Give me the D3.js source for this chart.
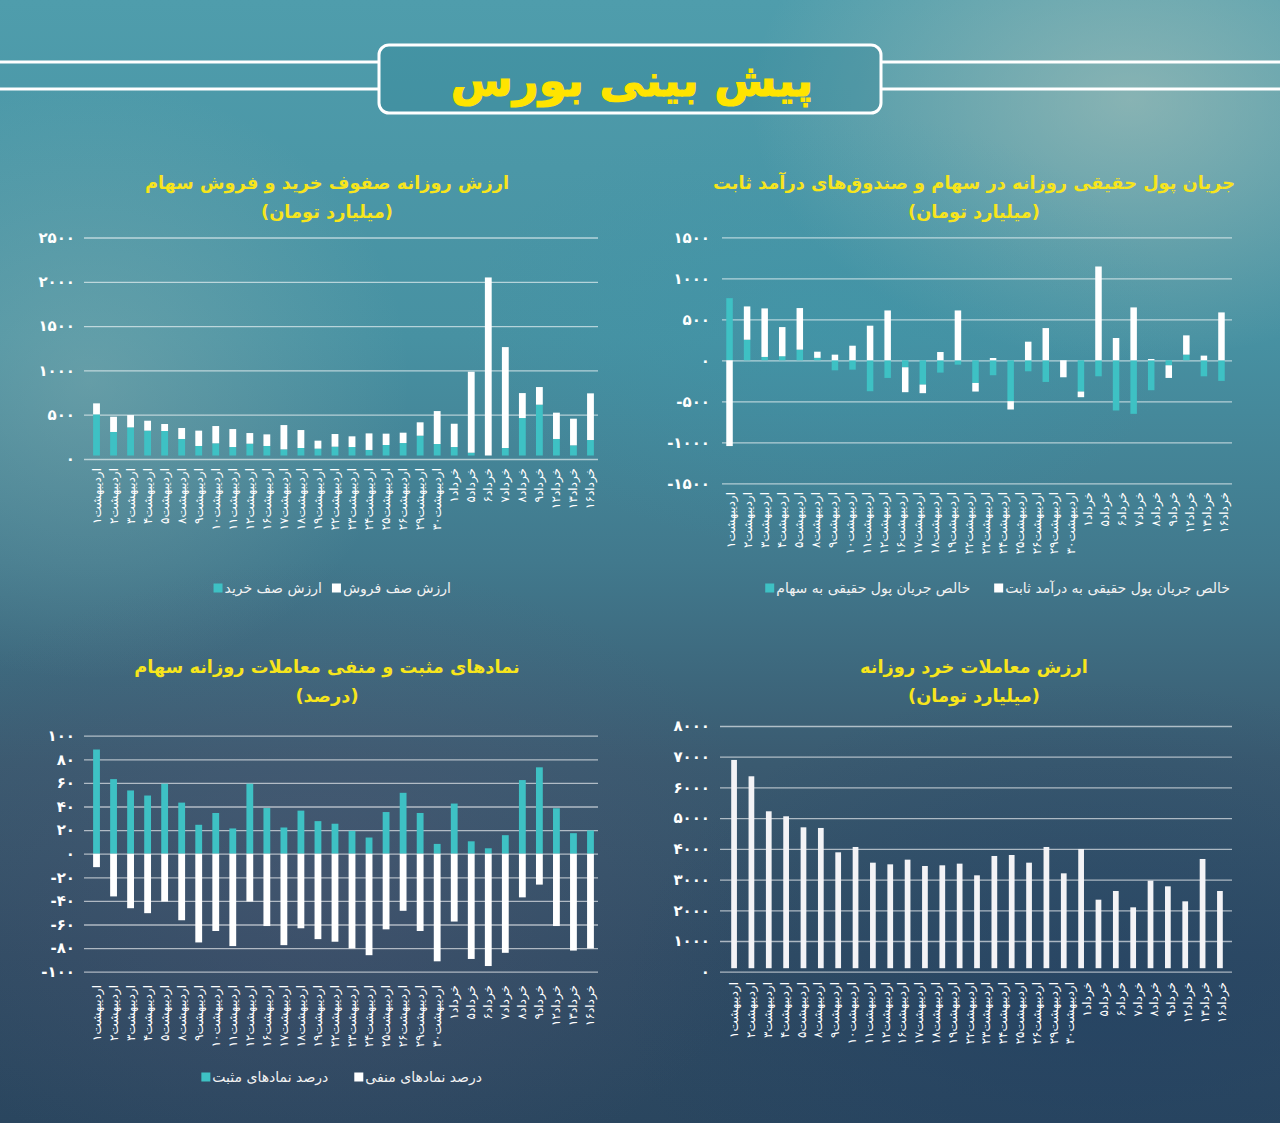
<!DOCTYPE html>
<html><head><meta charset="utf-8">
<script src="https://cdn.jsdelivr.net/npm/d3@7"></script>
<style>html,body{margin:0;padding:0;background:#3b7a8e;}svg{display:block;}</style>
</head><body>
<svg id="c" width="1280" height="1123"></svg>
<script>
// ---------------- DATA ----------------
const dates = ['اردیبهشت۱','اردیبهشت۲','اردیبهشت۳','اردیبهشت۴','اردیبهشت۵','اردیبهشت۸','اردیبهشت۹','اردیبهشت۱۰','اردیبهشت۱۱','اردیبهشت۱۲','اردیبهشت۱۶','اردیبهشت۱۷','اردیبهشت۱۸','اردیبهشت۱۹','اردیبهشت۲۲','اردیبهشت۲۳','اردیبهشت۲۴','اردیبهشت۲۵','اردیبهشت۲۶','اردیبهشت۲۹','اردیبهشت۳۰','خرداد۱','خرداد۵','خرداد۶','خرداد۷','خرداد۸','خرداد۹','خرداد۱۲','خرداد۱۳','خرداد۱۶'];

// chart 1: buy / sell queue value (billion toman)
const queueBuy  = [504,305,357,320,316,226,147,177,135,173,147,109,124,117,139,135,102,158,180,263,169,135,71,15,124,462,613,226,154,214];
const queueSell = [124,172,139,112,79,124,173,195,203,120,131,274,203,90,143,121,187,128,117,151,372,263,914,2034,1139,282,199,297,301,527];

// chart 2: net real money flow (29 bars drawn)
const flowStock = [758,251,41,49,130,30,-122,-114,-377,-215,-85,-296,-150,-53,-276,-182,-499,-134,-264,0,-381,-195,-612,-653,-365,-61,69,-195,-251];
const flowFixed = [-1046,406,592,356,507,75,69,178,422,608,-304,-105,101,608,-105,28,-101,227,393,-207,-69,1144,272,645,16,-154,235,57,584];

// chart 3: percent of positive / negative symbols
const posPct = [88.3,63.2,53.6,49.3,59.3,43.3,24.5,34.5,21.4,59.3,38.7,22.2,36.5,27.6,25.4,19.4,13.7,35.3,51.6,34.5,8.3,42.5,10.5,4.6,15.7,62.4,73.2,38.5,17.4,19.7];
const negPct = [-11.4,-36.2,-46.2,-50.4,-40.5,-56.4,-75.2,-65.5,-78.3,-40.5,-61.3,-77.5,-63.2,-72.4,-74.6,-80.3,-86.0,-64.1,-48.4,-65.5,-91.2,-57.5,-89.2,-95.2,-84.0,-37.0,-26.2,-61.3,-82.1,-80.3];

// chart 4: retail trade value (29 bars drawn)
const retailValue = [6895,6363,5223,5060,4701,4680,3887,4061,3550,3496,3648,3442,3464,3518,3138,3768,3800,3550,4061,3203,3996,2345,2628,2096,2964,2780,2291,3670,2628];

const ticks1 = [0,500,1000,1500,2000,2500];
const ticks2 = [-1500,-1000,-500,0,500,1000,1500];
const ticks3 = [-100,-80,-60,-40,-20,0,20,40,60,80,100];
const ticks4 = [0,1000,2000,3000,4000,5000,6000,7000,8000];

const mainTitle = 'پیش بینی بورس';
const title1 = ['ارزش روزانه صفوف خرید و فروش سهام','(میلیارد تومان)'];
const title2 = ['جریان پول حقیقی روزانه در سهام و صندوق\u200cهای درآمد ثابت','(میلیارد تومان)'];
const title3 = ['نمادهای مثبت و منفی معاملات روزانه سهام','(درصد)'];
const title4 = ['ارزش معاملات خرد روزانه','(میلیارد تومان)'];
const legend1 = ['ارزش صف فروش','ارزش صف خرید'];
const legend2 = ['خالص جریان پول حقیقی به درآمد ثابت','خالص جریان پول حقیقی به سهام'];
const legend3 = ['درصد نمادهای منفی','درصد نمادهای مثبت'];

// ---------------- STYLE ----------------
const FONT = '"DejaVu Sans", sans-serif';
const TEAL = '#3ec1c4';
const WHITE = '#ffffff';
const YELLOW = '#f7e51c';
const fa = s => String(s).replace(/\d/g, d => '۰۱۲۳۴۵۶۷۸۹'[d]);
const faNum = v => v < 0 ? '-' + fa(-v) : fa(v);

const svg = d3.select('#c');
const defs = svg.append('defs');
const lg = defs.append('linearGradient').attr('id','bg').attr('x1',0).attr('y1',0).attr('x2',0).attr('y2',1);
[[0,'#4f9dac'],[0.3,'#4791a2'],[0.5,'#41798d'],[0.68,'#3a5a70'],[0.85,'#304c64'],[1,'#2a465f']].forEach(([o,c])=>lg.append('stop').attr('offset',o).attr('stop-color',c));
function radial(id, color, op){
  const r = defs.append('radialGradient').attr('id',id);
  r.append('stop').attr('offset',0).attr('stop-color',color).attr('stop-opacity',op);
  r.append('stop').attr('offset',1).attr('stop-color',color).attr('stop-opacity',0);
}
radial('r1','#b8c8bc',0.55);
radial('r2','#9fbcb8',0.35);
radial('r3','#5a5a78',0.35);
radial('r4','#1f3f64',0.45);
radial('r5','#3a98ad',0.35);
svg.append('rect').attr('width',1280).attr('height',1123).attr('fill','url(#bg)');
svg.append('ellipse').attr('cx',1130).attr('cy',100).attr('rx',380).attr('ry',260).attr('fill','url(#r1)');
svg.append('ellipse').attr('cx',90).attr('cy',380).attr('rx',320).attr('ry',300).attr('fill','url(#r2)');
svg.append('ellipse').attr('cx',320).attr('cy',880).attr('rx',460).attr('ry',320).attr('fill','url(#r3)');
svg.append('ellipse').attr('cx',1100).attr('cy',1000).attr('rx',480).attr('ry',320).attr('fill','url(#r4)');
svg.append('ellipse').attr('cx',820).attr('cy',330).attr('rx',360).attr('ry',220).attr('fill','url(#r5)');

// ---------------- HEADER ----------------
[62,89].forEach(yy=>{
  svg.append('line').attr('x1',0).attr('x2',379).attr('y1',yy).attr('y2',yy).attr('stroke','#fff').attr('stroke-width',3);
  svg.append('line').attr('x1',881).attr('x2',1280).attr('y1',yy).attr('y2',yy).attr('stroke','#fff').attr('stroke-width',3);
});
svg.append('rect').attr('x',379).attr('y',45).attr('width',502).attr('height',68).attr('rx',10)
  .attr('fill','rgba(40,125,145,0.25)').attr('stroke','#fff').attr('stroke-width',3);
svg.append('text').attr('x',632).attr('y',80).attr('text-anchor','middle').attr('dominant-baseline','central')
  .attr('fill','#ffe400').attr('stroke','#ffe400').attr('stroke-width',1.2)
  .attr('font-family',FONT).attr('font-weight','bold').attr('font-size',45).text(mainTitle);

// ---------------- HELPERS ----------------
function panelBase(cfg){
  const g = svg.append('g');
  cfg.title.forEach((t,i)=>g.append('text').attr('x',cfg.cx).attr('y',cfg.ty + i*29)
    .attr('text-anchor','middle').attr('dominant-baseline','central').attr('fill',YELLOW)
    .attr('font-family',FONT).attr('font-weight','bold').attr('font-size',17.8).text(t));
  const y = d3.scaleLinear().domain(cfg.ydom).range(cfg.yrange);
  const ax = g.append('g').attr('transform',`translate(${cfg.gx0},0)`)
    .call(d3.axisLeft(y).tickValues(cfg.ticks).tickSize(-(cfg.gx1-cfg.gx0)).tickPadding(cfg.gx0-cfg.tx).tickFormat(faNum));
  ax.select('.domain').remove();
  ax.selectAll('line').attr('stroke','rgba(255,255,255,0.6)').attr('stroke-width',1.3);
  ax.selectAll('text').attr('fill','#fff').attr('font-size',15).attr('font-weight','bold').attr('font-family',FONT);
  const xl = d3.scaleBand().domain(dates).range(cfg.lrange).paddingInner(0.6).paddingOuter(0.3);
  const xa = g.append('g').attr('transform',`translate(0,${cfg.ly})`).call(d3.axisBottom(xl).tickSize(0));
  xa.select('.domain').remove();
  xa.selectAll('text').attr('x',0).attr('y',0).attr('dy',null).attr('transform','rotate(-90)')
    .style('text-anchor','end').attr('dominant-baseline','central').attr('fill','#fff')
    .attr('font-size',12).attr('font-family',FONT);
  return {g, y};
}
function legend(g, labels, colors, rightX, y, gap){
  let x = rightX;
  labels.forEach((lab,i)=>{
    const t = g.append('text').attr('x',x).attr('y',y).attr('text-anchor','end').attr('dominant-baseline','central')
      .attr('fill','#f2f2f2').attr('font-size',14).attr('font-family',FONT).text(lab);
    const w = t.node().getComputedTextLength();
    const sx = x - w - 2 - 9;
    g.append('rect').attr('x',sx).attr('y',y-4.5).attr('width',9).attr('height',9).attr('fill',colors[i]);
    x = sx - gap;
  });
}

// ---------------- CHART 1 ----------------
{
  const {g,y} = panelBase({title:title1, cx:327, ty:182, ydom:[0,2500], yrange:[459,237.5], ticks:ticks1, gx0:84, gx1:598, tx:75, lrange:[88,599], ly:468});
  const x = d3.scaleBand().domain(d3.range(queueBuy.length)).range([88,599]).paddingInner(0.6).paddingOuter(0.3);
  const rows = queueBuy.map((b,i)=>({i, buy:b, sell:queueSell[i]}));
  const st = d3.stack().keys(['buy','sell'])(rows);
  const base = y(0) - 3.5;
  st.forEach((s,k)=>{
    g.append('g').attr('fill',k===0?TEAL:WHITE).selectAll('rect').data(s).join('rect')
      .attr('x',d=>x(d.data.i)).attr('width',x.bandwidth())
      .attr('y',d=>Math.min(y(d[1]),base)).attr('height',d=>Math.max(0, Math.min(base,y(d[0])) - Math.min(base,y(d[1]))));
  });
  legend(g, legend1, [WHITE,TEAL], 451, 588, 10);
}

// ---------------- CHART 2 ----------------
{
  const {g,y} = panelBase({title:title2, cx:974, ty:182, ydom:[-1500,1500], yrange:[483.3,237.3], ticks:ticks2, gx0:722, gx1:1232, tx:710, lrange:[722,1232], ly:492});
  const x = d3.scaleBand().domain(d3.range(flowStock.length)).range([721,1230]).paddingInner(0.63).paddingOuter(0.3);
  const rows = flowStock.map((s,i)=>({i, stock:s, fixed:flowFixed[i]}));
  const st = d3.stack().keys(['stock','fixed']).offset(d3.stackOffsetDiverging)(rows);
  st.forEach((s,k)=>{
    g.append('g').attr('fill',k===0?TEAL:WHITE).selectAll('rect').data(s).join('rect')
      .attr('x',d=>x(d.data.i)).attr('width',x.bandwidth())
      .attr('y',d=>y(Math.max(d[0],d[1]))).attr('height',d=>Math.abs(y(d[0])-y(d[1])));
  });
  legend(g, legend2, [WHITE,TEAL], 1230, 588, 24);
}

// ---------------- CHART 3 ----------------
{
  const {g,y} = panelBase({title:title3, cx:327, ty:666, ydom:[-100,100], yrange:[971.7,735.7], ticks:ticks3, gx0:84, gx1:598, tx:75, lrange:[88,599], ly:985});
  const x = d3.scaleBand().domain(d3.range(posPct.length)).range([88,599]).paddingInner(0.6).paddingOuter(0.3);
  const rows = posPct.map((p,i)=>({i, pos:p, neg:negPct[i]}));
  const st = d3.stack().keys(['pos','neg']).offset(d3.stackOffsetDiverging)(rows);
  st.forEach((s,k)=>{
    g.append('g').attr('fill',k===0?TEAL:WHITE).selectAll('rect').data(s).join('rect')
      .attr('x',d=>x(d.data.i)).attr('width',x.bandwidth())
      .attr('y',d=>y(Math.max(d[0],d[1]))).attr('height',d=>Math.abs(y(d[0])-y(d[1])));
  });
  legend(g, legend3, [WHITE,TEAL], 482, 1077, 26);
}

// ---------------- CHART 4 ----------------
{
  const {g,y} = panelBase({title:title4, cx:974, ty:666, ydom:[0,8000], yrange:[971.7,726], ticks:ticks4, gx0:720, gx1:1232, tx:710, lrange:[726,1230], ly:982});
  const x = d3.scaleBand().domain(d3.range(retailValue.length)).range([726,1228]).paddingInner(0.67).paddingOuter(0.3);
  const base = y(0) - 3.5;
  g.append('g').attr('fill','#f3f3f6').selectAll('rect').data(retailValue).join('rect')
    .attr('x',(d,i)=>x(i)).attr('width',x.bandwidth())
    .attr('y',d=>y(d)).attr('height',d=>base - y(d));
}
</script>
</body></html>
